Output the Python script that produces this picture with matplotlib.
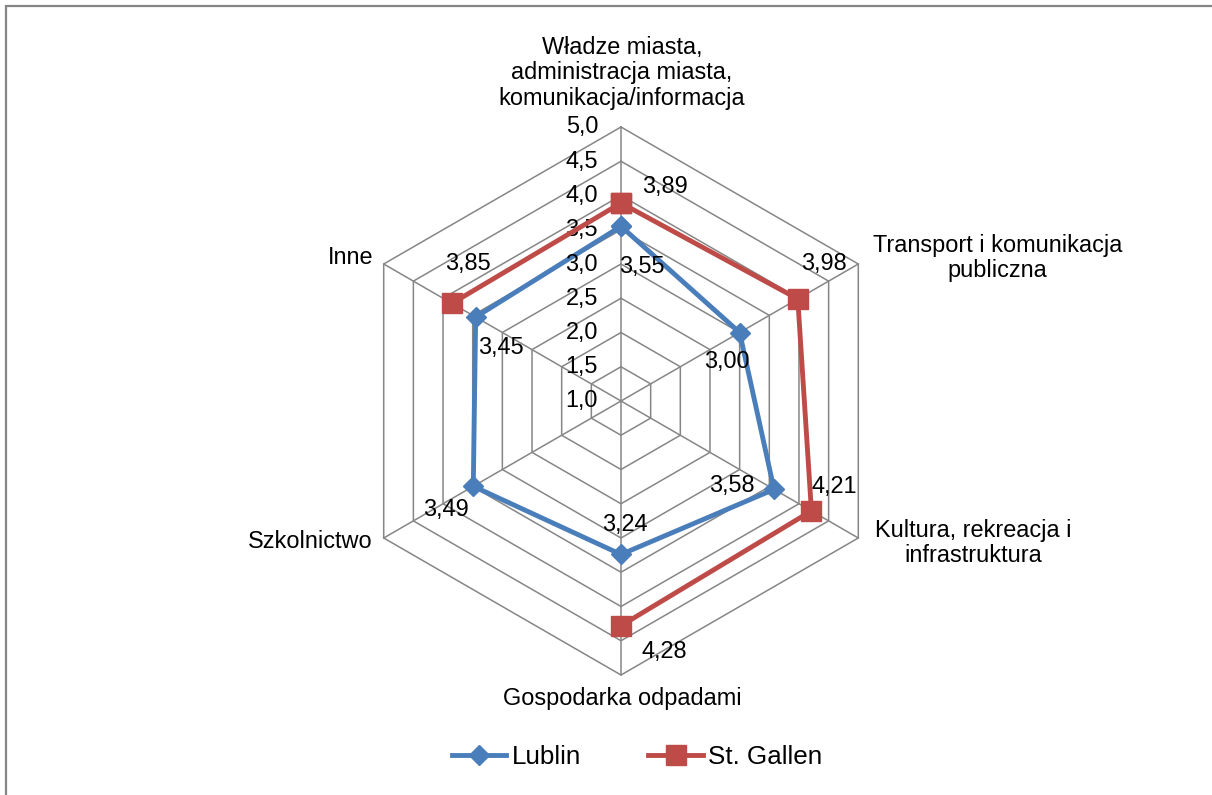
import numpy as np
import matplotlib
matplotlib.use("Agg")
import matplotlib.pyplot as plt
from matplotlib.lines import Line2D

plt.rcParams['font.family'] = ['Liberation Sans', 'DejaVu Sans']

# ---- data ----
categories = [
    "Władze miasta,\nadministracja miasta,\nkomunikacja/informacja",
    "Transport i komunikacja\npubliczna",
    "Kultura, rekreacja i\ninfrastruktura",
    "Gospodarka odpadami",
    "Szkolnictwo",
    "Inne",
]
lublin = [3.55, 3.00, 3.58, 3.24, 3.49, 3.45]
st_gallen = [3.89, 3.98, 4.21, 4.28, np.nan, 3.85]
lublin_labels = ["3,55", "3,00", "3,58", "3,24", "3,49", "3,45"]
st_gallen_labels = ["3,89", "3,98", "4,21", "4,28", "", "3,85"]
rticks = [1.0, 1.5, 2.0, 2.5, 3.0, 3.5, 4.0, 4.5, 5.0]
rtick_labels = ["1,0", "1,5", "2,0", "2,5", "3,0", "3,5", "4,0", "4,5", "5,0"]

# ---- layout / style ----
W, H = 1212, 795
BLUE = "#4A7EBB"
RED = "#BE4B48"
GRID = "#868686"
FS = 16.9
cx, cy, R = 621, 401, 274

# label offsets in pixels (display, y up)
lublin_off = [(21, -40), (-13, -29), (-42, 4), (4, 30), (-27, -23), (25, -30)]
stg_off = [(44, 17), (26, 35), (23, 24), (43, -26), (0, 0), (16, 40)]
cat_off = [(1, 54), (139, 6), (115, -5), (1, -24), (-11, -4), (-10, 6)]
cat_ha = ["center", "center", "center", "center", "right", "right"]

fig = plt.figure(figsize=(W / 100, H / 100), dpi=100)
ax = fig.add_axes([(cx - R) / W, (H - cy - R) / H, 2 * R / W, 2 * R / H],
                  projection="polar")
ax.set_theta_zero_location("N")
ax.set_theta_direction(-1)
ax.set_ylim(1.0, 5.0)
ax.grid(False)
ax.spines["polar"].set_visible(False)
ax.set_xticks([])
ax.set_yticks([])
ax.patch.set_alpha(0)

n = len(categories)
theta = np.arange(n) * 2 * np.pi / n
theta_c = np.append(theta, theta[0])

# hexagonal grid
for r in rticks[1:]:
    ax.plot(theta_c, [r] * (n + 1), color=GRID, lw=1.1, zorder=1, clip_on=False)
for t in theta:
    ax.plot([t, t], [1.0, 5.0], color=GRID, lw=1.1, zorder=1, clip_on=False)

# series
lv = np.append(lublin, lublin[0])
sv = np.append(st_gallen, st_gallen[0])
ax.plot(theta_c, lv, color=BLUE, lw=3.5, marker="D", ms=10, zorder=3,
        clip_on=False, solid_joinstyle="miter")
ax.plot(theta_c, sv, color=RED, lw=3.5, marker="s", ms=14, zorder=4,
        clip_on=False, solid_joinstyle="miter")

# tick labels
for r, lab in zip(rticks, rtick_labels):
    ax.annotate(lab, xy=(0, r), xytext=(-23, 0), textcoords="offset pixels",
                ha="right", va="center", fontsize=FS, annotation_clip=False)

# data labels
for t, v, lab, off in zip(theta, lublin, lublin_labels, lublin_off):
    ax.annotate(lab, xy=(t, v), xytext=off, textcoords="offset pixels",
                ha="center", va="center", fontsize=FS, annotation_clip=False, zorder=5)
for t, v, lab, off in zip(theta, st_gallen, st_gallen_labels, stg_off):
    if lab:
        ax.annotate(lab, xy=(t, v), xytext=off, textcoords="offset pixels",
                    ha="center", va="center", fontsize=FS, annotation_clip=False, zorder=5)

# category labels
for t, lab, off, ha in zip(theta, categories, cat_off, cat_ha):
    ax.annotate(lab, xy=(t, 5.0), xytext=off, textcoords="offset pixels",
                ha=ha, va="center", fontsize=FS, multialignment="center",
                linespacing=1.15, annotation_clip=False)

# legend
handles = [
    Line2D([], [], color=BLUE, lw=3.5, marker="D", ms=10),
    Line2D([], [], color=RED, lw=3.5, marker="s", ms=14),
]
fig.legend(handles, ["Lublin", "St. Gallen"], loc="center",
           bbox_to_anchor=(637 / W, 1 - 757 / H), ncol=2, frameon=False,
           fontsize=18.7, handlelength=2.1, handletextpad=0.2,
           columnspacing=2.6)

# outer border (right/bottom fall outside the image)
fig.add_artist(plt.Rectangle((6 / W, -0.05), 1.2, 1.05 - 6 / H,
                             transform=fig.transFigure, fill=False,
                             edgecolor=GRID, lw=1.6))

fig.savefig("out.png", dpi=100)
